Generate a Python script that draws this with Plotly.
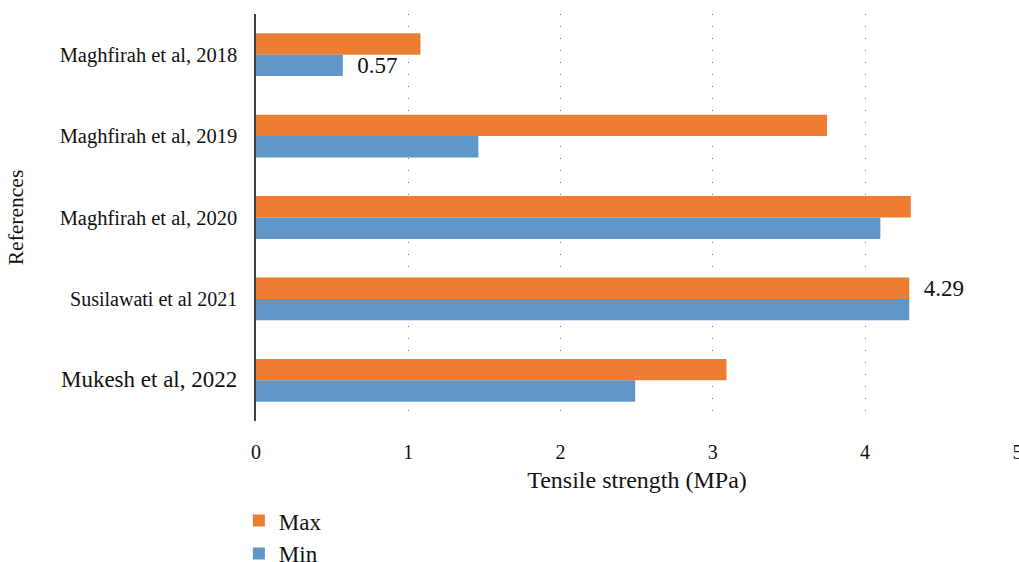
import plotly.graph_objects as go

# Tensile strength ranges reported in each reference
references = [
    "Maghfirah et al, 2018",
    "Maghfirah et al, 2019",
    "Maghfirah et al, 2020",
    "Susilawati et al 2021",
    "Mukesh et al, 2022",
]
max_strength = [1.08, 3.75, 4.30, 4.29, 3.09]
min_strength = [0.57, 1.46, 4.10, 4.29, 2.49]
x_ticks = [0, 1, 2, 3, 4, 5]

# which bars carry a value label
max_labelled = [False, False, False, True, False]
min_labelled = [True, False, False, False, False]

# per-category label font sizes
label_sizes = [20.5, 20.5, 20.5, 20, 23]

FONT = "Liberation Serif"
ORANGE = "#ED7D31"
BLUE = "#5F97C9"
INK = "#111111"

def bar_text(values, flags):
    return [f"  {v:.2f}" if f else "" for v, f in zip(values, flags)]

fig = go.Figure()
for name, vals, flags, color in [
    ("Max", max_strength, max_labelled, ORANGE),
    ("Min", min_strength, min_labelled, BLUE),
]:
    fig.add_trace(go.Bar(
        name=name, y=references, x=vals, orientation="h",
        marker=dict(color=color, line=dict(width=0)),
        text=bar_text(vals, flags), textposition="outside",
        textfont=dict(family=FONT, size=23, color=INK), cliponaxis=False,
        constraintext="none",
    ))

tick_text = [f'<span style="font-size:{s}px">{r}</span>' for r, s in zip(references, label_sizes)]

fig.update_layout(
    width=1019, height=562,
    margin=dict(l=256, r=1, t=14, b=141, autoexpand=False),
    paper_bgcolor="white", plot_bgcolor="white",
    barmode="group", bargap=0.474, bargroupgap=0,
    font=dict(family=FONT, color=INK),
    legend=dict(
        orientation="v", x=-0.0225, xanchor="left", y=-0.192, yanchor="top",
        font=dict(family=FONT, size=23, color=INK),
        itemwidth=30, tracegroupgap=0, bgcolor="rgba(0,0,0,0)",
    ),
    xaxis=dict(
        range=[0, 5.004], tickvals=x_ticks, ticktext=[str(t) for t in x_ticks],
        showgrid=True, gridcolor="#7a7a7a", gridwidth=1, griddash="1px,11px",
        zeroline=False, showline=False, ticks="", automargin=False,
        ticklabeloverflow="allow",
        tickfont=dict(family=FONT, size=20, color=INK),
        ticklabelstandoff=17,
        title=dict(text="Tensile strength (MPa)", font=dict(family=FONT, size=24, color=INK), standoff=9),
    ),
    yaxis=dict(
        autorange="reversed", tickmode="array", tickvals=references, ticktext=tick_text,
        showline=True, linecolor="#404040", linewidth=1.5, showgrid=False, ticks="",
        ticklabelstandoff=13, automargin=False,
        tickfont=dict(family=FONT, size=20, color=INK),
        title=dict(text="References", font=dict(family=FONT, size=21.5, color=INK), standoff=30),
    ),
    showlegend=True,
)

fig.write_html("out.html")
